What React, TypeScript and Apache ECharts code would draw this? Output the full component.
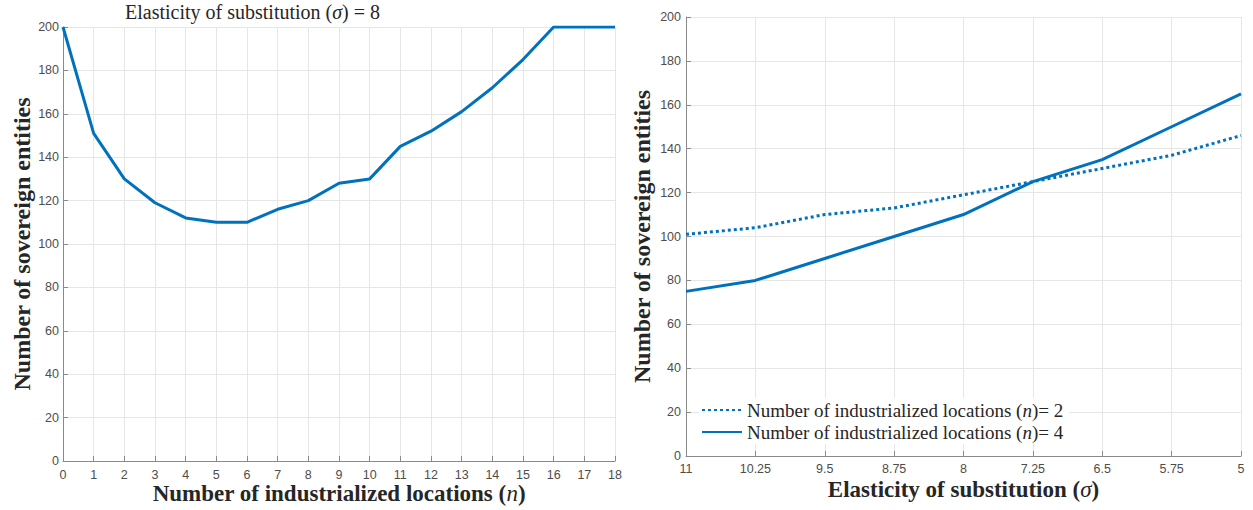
import React, { useEffect, useRef } from "react";
import * as echarts from "echarts";

const leftX = [0, 1, 2, 3, 4, 5, 6, 7, 8, 9, 10, 11, 12, 13, 14, 15, 16, 17, 18];
const leftY = [200, 151, 130, 119, 112, 110, 110, 116, 120, 128, 130, 145, 152, 161, 172, 185, 200, 200, 200];

const sigmaCats = ["11", "10.25", "9.5", "8.75", "8", "7.25", "6.5", "5.75", "5"];
const seriesN2 = [101, 104, 110, 113, 119, 125, 131, 137, 146];
const seriesN4 = [75, 80, 90, 100, 110, 125, 135, 150, 165];

const nameN2 = "Number of industrialized locations (n)= 2";
const nameN4 = "Number of industrialized locations (n)= 4";

const BLUE = "#0072BD";
const SERIF = "'Liberation Serif', 'DejaVu Serif', serif";
const SANS = "'Liberation Sans', Arial, sans-serif";
const AXIS = "#8a8a8a";
const GRIDC = "#e6e6e6";
const TICKC = "#4d4d4d";
const TXT = "#262626";

export default function App() {
  const ref = useRef<HTMLDivElement>(null);
  useEffect(() => {
    if (!ref.current) return;
    const chart = echarts.init(ref.current, undefined, { renderer: "svg" });
    const nameStyle = (size: number) => ({
      fontFamily: SERIF,
      fontSize: size,
      lineHeight: size,
      fontWeight: "bold",
      color: TXT,
      rich: {
        i: { fontFamily: SERIF, fontSize: size, lineHeight: size, fontStyle: "italic", fontWeight: "normal", color: TXT },
      },
    });
    const axisCommon = {
      nameMoveOverlap: false,
      axisLine: { show: true, lineStyle: { color: AXIS, width: 1 } },
      axisTick: { show: true, inside: true, length: 5, lineStyle: { color: AXIS } },
      axisLabel: { color: TICKC, fontFamily: SANS, fontSize: 12.5, lineHeight: 13 },
      splitLine: { show: true, lineStyle: { color: GRIDC, width: 1 } },
    };
    chart.setOption({
      animation: false,
      backgroundColor: "#ffffff",
      title: {
        text: "Elasticity of substitution ({i|σ}) = 8",
        left: 125,
        top: 2,
        padding: 0,
        textStyle: {
          fontFamily: SERIF,
          fontSize: 20,
          fontWeight: "normal",
          color: TXT,
          rich: {
            i: { fontFamily: SERIF, fontSize: 20, fontStyle: "italic", color: TXT },
          },
        },
      },
      grid: [
        { left: 63, top: 27, width: 552, height: 434, containLabel: false, outerBoundsMode: "none" },
        { left: 686, top: 17, width: 555, height: 439, containLabel: false, outerBoundsMode: "none" },
      ],
      legend: {
        orient: "vertical",
        left: 699,
        top: 398,
        itemWidth: 40,
        itemHeight: 12,
        itemGap: 2,
        padding: [2, 6, 2, 2],
        backgroundColor: "#ffffff",
        data: [nameN2, nameN4],
        itemStyle: { opacity: 0 },
        formatter: (name: string) => name.replace("(n)", "({i|n})"),
        textStyle: {
          fontFamily: SERIF,
          fontSize: 19,
          lineHeight: 20,
          color: TXT,
          rich: {
            i: { fontFamily: SERIF, fontSize: 19, lineHeight: 20, fontStyle: "italic", color: TXT },
          },
        },
      },
      xAxis: [
        {
          type: "value",
          gridIndex: 0,
          min: 0,
          max: 18,
          interval: 1,
          name: "Number of industrialized locations ({i|n})",
          nameLocation: "middle",
          nameGap: 21,
          nameTextStyle: nameStyle(23),
          ...axisCommon,
          axisLabel: { ...axisCommon.axisLabel, margin: 7 },
        },
        {
          type: "category",
          gridIndex: 1,
          data: sigmaCats,
          boundaryGap: false,
          name: "Elasticity of substitution ({i|σ})",
          nameLocation: "middle",
          nameGap: 22,
          nameTextStyle: nameStyle(23),
          ...axisCommon,
          axisTick: { ...axisCommon.axisTick, alignWithLabel: true },
          axisLabel: { ...axisCommon.axisLabel, margin: 6, interval: 0 },
          splitLine: { show: true, interval: 0, lineStyle: { color: GRIDC, width: 1 } },
        },
      ],
      yAxis: [
        {
          type: "value",
          gridIndex: 0,
          min: 0,
          max: 200,
          interval: 20,
          name: "Number of sovereign entities",
          nameLocation: "middle",
          nameGap: 29,
          nameTextStyle: nameStyle(24),
          ...axisCommon,
          axisLabel: { ...axisCommon.axisLabel, margin: 4 },
        },
        {
          type: "value",
          gridIndex: 1,
          min: 0,
          max: 200,
          interval: 20,
          name: "Number of sovereign entities",
          nameLocation: "middle",
          nameGap: 32,
          nameTextStyle: nameStyle(24),
          ...axisCommon,
          axisLabel: { ...axisCommon.axisLabel, margin: 5 },
        },
      ],
      series: [
        {
          type: "line",
          xAxisIndex: 0,
          yAxisIndex: 0,
          data: leftX.map((x, i) => [x, leftY[i]]),
          showSymbol: false,
          symbol: "none",
          lineStyle: { color: BLUE, width: 3 },
          itemStyle: { color: BLUE },
        },
        {
          name: nameN2,
          type: "line",
          xAxisIndex: 1,
          yAxisIndex: 1,
          data: seriesN2,
          showSymbol: false,
          symbol: "none",
          lineStyle: { color: BLUE, width: 3, type: [3, 3] },
          itemStyle: { color: BLUE },
        },
        {
          name: nameN4,
          type: "line",
          xAxisIndex: 1,
          yAxisIndex: 1,
          data: seriesN4,
          showSymbol: false,
          symbol: "none",
          lineStyle: { color: BLUE, width: 3 },
          itemStyle: { color: BLUE },
        },
      ],
    });
    return () => chart.dispose();
  }, []);
  return (
    <div
      ref={ref}
      style={{ position: "absolute", left: 0, top: 0, width: 1253, height: 510 }}
    />
  );
}
